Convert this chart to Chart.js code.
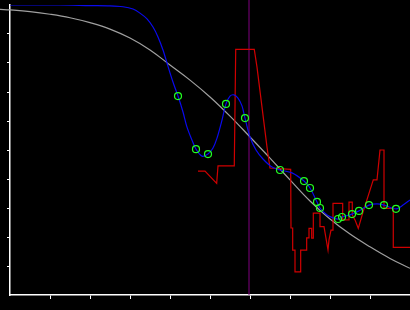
<!DOCTYPE html>
<html>
<head>
<meta charset="utf-8">
<script src="https://cdn.jsdelivr.net/npm/chart.js@4/dist/chart.umd.min.js"></script>
<style>
  html, body { margin: 0; padding: 0; background: #000; }
  canvas { display: block; }
</style>
</head>
<body>
<canvas id="chart" width="410" height="310"></canvas>
<script>
// smooth decreasing reference curve
const grayX = [-0.25, 0, 0.5, 1, 1.5, 2, 2.5, 3, 3.5, 4, 4.5, 5, 5.5, 6, 6.5, 7, 7.5, 8, 8.5, 9, 9.5, 10];
const grayY = [9.85, 9.83, 9.77, 9.68, 9.56, 9.39, 9.17, 8.86, 8.45, 7.93, 7.41, 6.83, 6.17, 5.45, 4.72, 3.97, 3.24, 2.62, 2.10, 1.66, 1.26, 0.92];

// fitted curve
const blueX = [0, 1.25, 2, 2.5, 2.825, 3.075, 3.25, 3.425, 3.575, 3.7, 3.825, 3.925, 4, 4.1, 4.2, 4.325, 4.425, 4.55, 4.65, 4.8, 4.95, 5.075, 5.175, 5.3, 5.4, 5.5, 5.6, 5.7, 5.8, 5.875, 6, 6.15, 6.325, 6.55, 6.75, 7.05, 7.35, 7.5, 7.675, 7.75, 7.925, 8.075, 8.2, 8.3, 8.55, 8.725, 8.975, 9.175, 9.35, 9.65, 9.825, 10];
const blueY = [10, 10, 9.98, 9.97, 9.94, 9.86, 9.72, 9.52, 9.24, 8.90, 8.45, 8.0, 7.66, 7.24, 6.86, 6.31, 5.79, 5.34, 5.03, 4.79, 4.86, 5.07, 5.41, 6.03, 6.59, 6.86, 6.90, 6.79, 6.52, 6.10, 5.45, 5.0, 4.69, 4.41, 4.31, 4.21, 3.93, 3.69, 3.21, 3.0, 2.76, 2.66, 2.62, 2.69, 2.79, 2.90, 3.10, 3.14, 3.10, 2.97, 3.10, 3.28];

// sample points
const dotX = [4.2, 4.65, 4.95, 5.4, 5.875, 6.75, 7.35, 7.5, 7.675, 7.75, 8.2, 8.3, 8.55, 8.725, 8.975, 9.35, 9.65];
const dotY = [6.86, 5.03, 4.86, 6.59, 6.10, 4.31, 3.93, 3.69, 3.21, 3.0, 2.62, 2.69, 2.79, 2.90, 3.10, 3.10, 2.97];

// raw measurements
const redX = [4.7, 4.875, 5.167, 5.2, 5.607, 5.643, 6.107, 6.175, 6.3, 6.425, 6.5, 7.017, 7.025, 7.067, 7.067, 7.125, 7.125, 7.267, 7.267, 7.417, 7.417, 7.475, 7.475, 7.542, 7.542, 7.583, 7.583, 7.75, 7.75, 7.85, 7.95, 7.975, 8.025, 8.075, 8.075, 8.317, 8.317, 8.45, 8.475, 8.557, 8.557, 8.625, 8.707, 8.825, 9.082, 9.175, 9.25, 9.35, 9.35, 9.582, 9.582, 10];
const redY = [4.27, 4.27, 3.85, 4.45, 4.45, 8.47, 8.47, 7.86, 6.48, 5.10, 4.38, 4.33, 2.31, 2.31, 1.55, 1.55, 0.80, 0.80, 1.55, 1.55, 1.97, 1.97, 2.30, 2.30, 1.96, 1.96, 2.82, 2.82, 2.36, 2.36, 1.55, 1.90, 2.24, 2.24, 3.16, 3.16, 2.59, 2.59, 3.20, 3.20, 2.76, 2.59, 2.30, 2.86, 3.97, 3.97, 5.0, 5.0, 2.99, 2.99, 1.64, 1.64];

const markerX = 5.975;
const markerY = [0, 10.2];

const pts = (xs, ys) => xs.map((x, i) => ({ x: x, y: ys[i] }));

const hideEnds = scale => {
  scale.ticks = scale.ticks.filter(t => t.value > 0 && t.value < 10);
};

new Chart(document.getElementById('chart'), {
  type: 'line',
  data: {
    datasets: [
      {
        data: pts(dotX, dotY),
        showLine: false,
        pointRadius: 3.5,
        pointBorderWidth: 1.2,
        pointBorderColor: '#22ff22',
        pointBackgroundColor: 'transparent',
        order: 0
      },
      {
        data: pts(blueX, blueY),
        borderColor: '#0a0aee',
        borderWidth: 1.2,
        pointRadius: 0,
        tension: 0.3,
        order: 1
      },
      {
        data: pts(redX, redY),
        borderColor: '#d00000',
        borderWidth: 1.2,
        pointRadius: 0,
        tension: 0,
        order: 2
      },
      {
        data: pts(grayX, grayY),
        borderColor: '#a0a0a0',
        borderWidth: 1.2,
        pointRadius: 0,
        tension: 0.4,
        clip: false,
        order: 3
      },
      {
        data: markerY.map(y => ({ x: markerX, y: y })),
        borderColor: '#800080',
        borderWidth: 1,
        pointRadius: 0,
        clip: false,
        order: 4
      }
    ]
  },
  options: {
    responsive: false,
    animation: false,
    events: [],
    layout: { autoPadding: false, padding: { left: 7, top: 5, right: 0, bottom: 11 } },
    plugins: { legend: { display: false }, tooltip: { enabled: false } },
    scales: {
      x: {
        type: 'linear',
        min: 0,
        max: 10,
        afterBuildTicks: hideEnds,
        ticks: { display: false, stepSize: 1 },
        grid: { drawOnChartArea: false, color: '#fff', tickLength: 4, lineWidth: 1 },
        border: { color: '#fff', width: 1.5 }
      },
      y: {
        min: 0,
        max: 10,
        afterBuildTicks: hideEnds,
        ticks: { display: false, stepSize: 1 },
        grid: { drawOnChartArea: false, color: '#fff', tickLength: 3, lineWidth: 1 },
        border: { color: '#fff', width: 1.5 }
      }
    }
  }
});
</script>
</body>
</html>
